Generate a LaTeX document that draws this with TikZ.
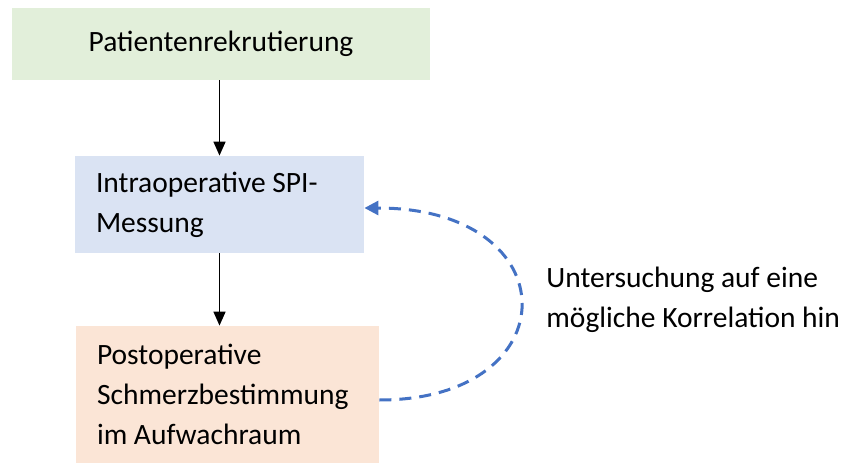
\documentclass[tikz,border=0pt]{standalone}
\usepackage{fontspec}
\setmainfont{Carlito}
\usetikzlibrary{arrows.meta, positioning}

\definecolor{stepgreen}{HTML}{E2EFDA}
\definecolor{stepblue}{HTML}{DAE3F3}
\definecolor{steporange}{HTML}{FBE5D6}
\definecolor{linkblue}{HTML}{4472C4}

\begin{document}
\begin{tikzpicture}[
        x=0.5pt, y=-0.5pt,
        every node/.style={font=\fontsize{14.75}{20}\selectfont, inner sep=0pt},
        stepbox/.style={draw=none, minimum height=#1*0.5pt, inner xsep=10.5pt, align=flush left},
        flow/.style={-{Triangle[width=6pt, length=7pt]}, line width=0.75pt},
        link/.style={-{Triangle[width=7pt, length=7pt]}, linkblue, line width=1.5pt, dash pattern=on 6pt off 4pt}
    ]
        \useasboundingbox (0,0) rectangle (844,464);

        % Ablauf der Studie
        \node [stepbox=72, fill=stepgreen, minimum width=209pt, align=center] (recruit) at (221,44) {Patientenrekrutierung};
        \node [stepbox=97, fill=stepblue, text width=123.5pt] (intraop) at (219.5,204.5) {Intraoperative SPI-\\Messung};
        \node [stepbox=137, fill=steporange, text width=130.5pt] (postop) at (227.5,394.5) {Postoperative\\Schmerzbestimmung\\im Aufwachraum};

        % Verbindungen
        \draw [flow] (recruit.south -| intraop.north) -- (intraop.north);
        \draw [flow] (intraop.south) -- (intraop.south |- postop.north);

        % Rueckbezug
        \coordinate (postopR) at ([yshift=-2.75pt]postop.east);
        \coordinate (intraopR) at ([yshift=-1.75pt]intraop.east);
        \draw [link] (postopR) .. controls (570,400) and (570,208) .. (intraopR);
        \node [anchor=west, align=flush left] (corr) at (546,300) {Untersuchung auf eine\\mögliche Korrelation hin};
    \end{tikzpicture}
\end{document}
